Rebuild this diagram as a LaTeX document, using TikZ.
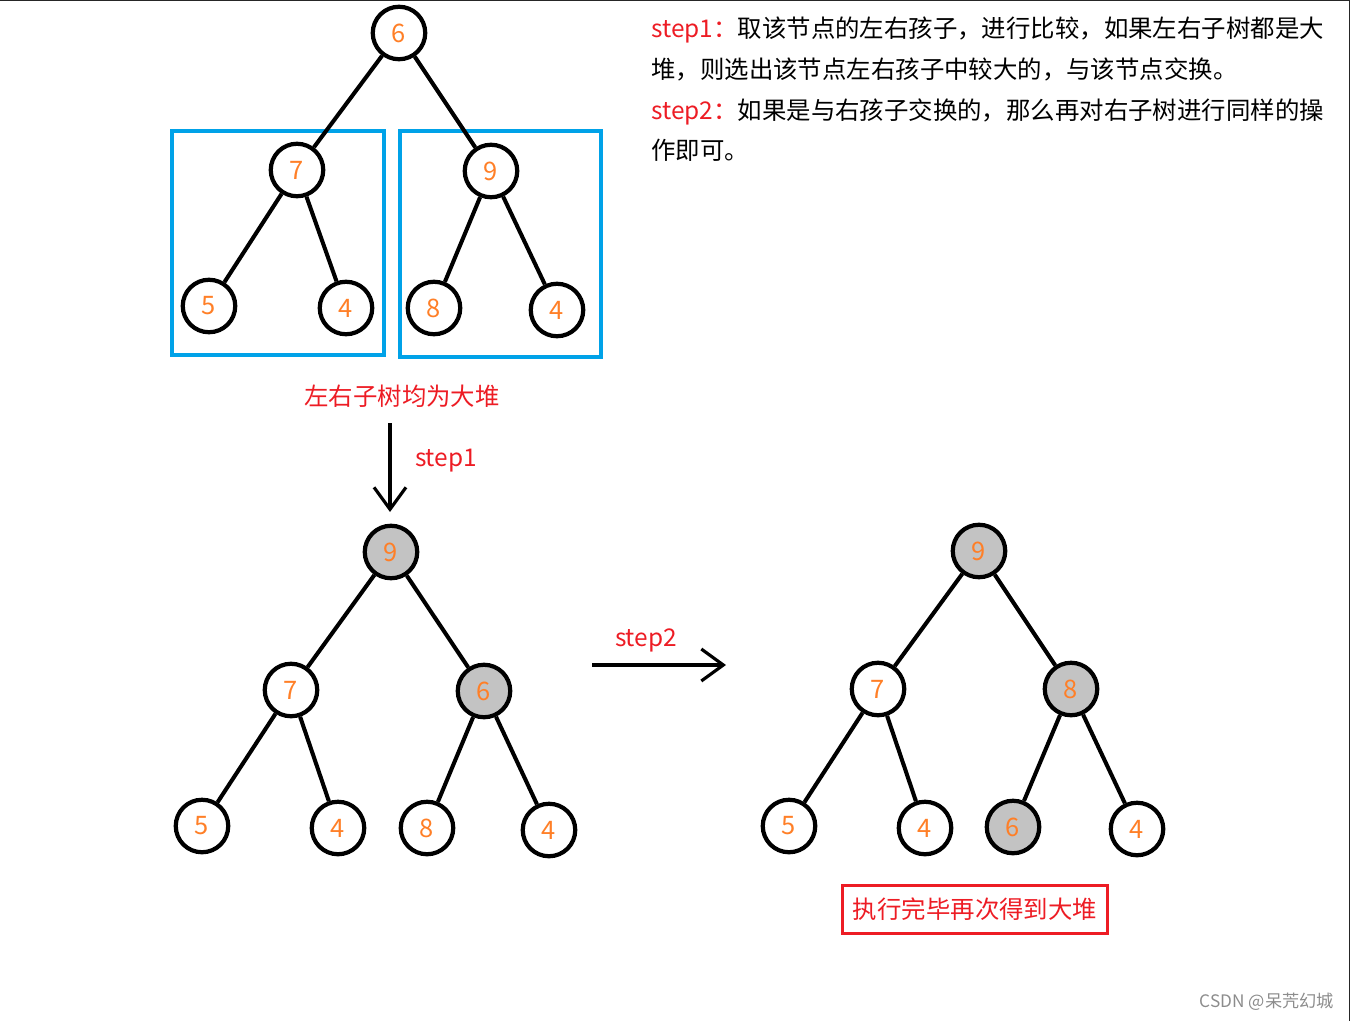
\documentclass[tikz,border=0pt]{standalone}
\usepackage{fontspec}
\setmainfont{Noto Sans CJK SC}
\usetikzlibrary{arrows.meta}
\definecolor{heapred}{HTML}{ED1C24}
\definecolor{numorange}{HTML}{FF7F27}
\definecolor{boxblue}{HTML}{00A2E8}
\definecolor{swapgray}{HTML}{C3C3C3}
\begin{document}
\begin{tikzpicture}[x=0.02cm,y=-0.02cm,
        tn/.style={circle,draw,line width=2.4pt,minimum size=1.05cm,inner sep=0pt,
            text=numorange,font=\fontsize{14.5}{15}\selectfont},
        hot/.style={tn,fill=swapgray},
        link/.style={line width=2.3pt},
        subbox/.style={draw=boxblue,line width=1.8pt},
        arr/.style={line width=1.8pt,-{Straight Barb[length=4.4mm,width=6.4mm]}},
        redtxt/.style={text=heapred,font=\fontsize{13.9}{14}\selectfont},
        desc/.style={anchor=base west,inner sep=0pt,font=\fontsize{13.9}{14}\selectfont}]
    \useasboundingbox (0,0) rectangle (1351,1021);
    \draw[line width=0.8pt,black!85] (0,0.7) -- (1349.3,0.7) -- (1349.3,1021);

    % heap before step1
    \draw[subbox] (172,131) rectangle (384,355);
    \draw[subbox] (400,131) rectangle (601,357);
    \node[tn] (a6) at (399,33) {6};
    \node[tn] (a7) at (297,170) {7};
    \node[tn] (a9) at (491,171) {9};
    \node[tn] (a5) at (209,306) {5};
    \node[tn] (a4) at (346,308) {4};
    \node[tn] (a8) at (434,308) {8};
    \node[tn] (a4r) at (557,310) {4};
    \draw[link] (a6) -- (a7);
    \draw[link] (a6) -- (a9);
    \draw[link] (a7) -- (a5);
    \draw[link] (a7) -- (a4);
    \draw[link] (a9) -- (a8);
    \draw[link] (a9) -- (a4r);
    \node[redtxt] (heaplbl) at (402,396) {左右子树均为大堆};

    % step1
    \coordinate (s1from) at (390,423);
    \coordinate (s1to) at (390,512);
    \draw[arr] (s1from) -- (s1to);
    \node[redtxt] (s1lbl) at (446,461) {step1};

    % heap after step1
    \node[hot] (b9) at (391,552) {9};
    \node[tn] (b7) at (291,690) {7};
    \node[hot] (b6) at (484,691) {6};
    \node[tn] (b5) at (202,826) {5};
    \node[tn] (b4) at (338,828) {4};
    \node[tn] (b8) at (427,828) {8};
    \node[tn] (b4r) at (549,830) {4};
    \draw[link] (b9) -- (b7);
    \draw[link] (b9) -- (b6);
    \draw[link] (b7) -- (b5);
    \draw[link] (b7) -- (b4);
    \draw[link] (b6) -- (b8);
    \draw[link] (b6) -- (b4r);

    % step2
    \coordinate (s2from) at (592,665);
    \coordinate (s2to) at (726,665);
    \draw[arr] (s2from) -- (s2to);
    \node[redtxt] (s2lbl) at (646,640) {step2};

    % final heap
    \node[hot] (c9) at (979,551) {9};
    \node[tn] (c7) at (878,689) {7};
    \node[hot] (c8) at (1071,689) {8};
    \node[tn] (c5) at (789,826) {5};
    \node[tn] (c4) at (925,828) {4};
    \node[hot] (c6) at (1013,827) {6};
    \node[tn] (c4r) at (1137,829) {4};
    \draw[link] (c9) -- (c7);
    \draw[link] (c9) -- (c8);
    \draw[link] (c7) -- (c5);
    \draw[link] (c7) -- (c4);
    \draw[link] (c8) -- (c6);
    \draw[link] (c8) -- (c4r);
    \node[redtxt,draw=heapred,line width=1.7pt,minimum width=5.3cm,minimum height=0.96cm]
        (done) at (975,909) {执行完毕再次得到大堆};

    % description
    \node[desc] (d1) at (651,37) {\textcolor{heapred}{step1：}取该节点的左右孩子，进行比较，如果左右子树都是大};
    \node[desc] (d2) at (651,78) {堆，则选出该节点左右孩子中较大的，与该节点交换。};
    \node[desc] (d3) at (651,119) {\textcolor{heapred}{step2：}如果是与右孩子交换的，那么再对右子树进行同样的操};
    \node[desc] (d4) at (651,159) {作即可。};

    \node[text=black!45,font=\fontsize{9.8}{10}\selectfont] (mark) at (1267,1002) {CSDN @呆苀幻城};
\end{tikzpicture}
\end{document}
